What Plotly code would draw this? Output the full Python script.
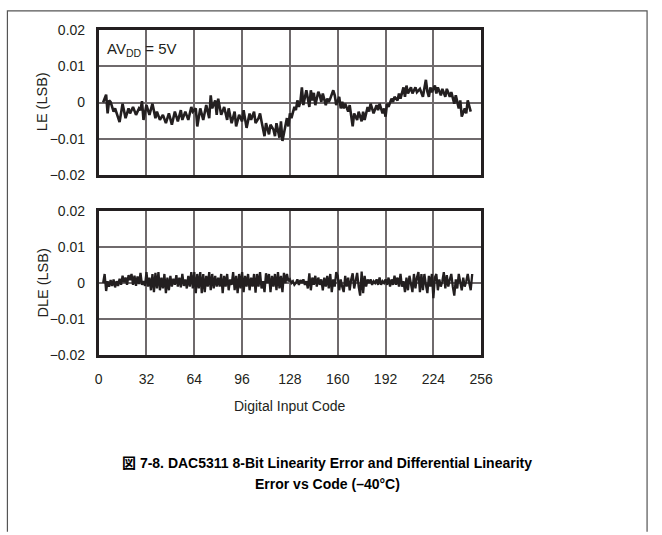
import plotly.graph_objects as go

# ---------------- data ----------------
le_code = [3,5,6,7,8,10,11,14,16,18,20,21,23,25,27,28,29,30,32,34,36,38,39,41,43,45,47,49,51,53,55,56,58,60,62,63,
           65,66,68,70,72,74,75,76,78,79,80,82,84,86,87,89,91,92,94,96,97,99,101,102,104,105,107,108,109,111,112,114,
           115,117,118,119,121,122,123,125,126,127,128,129,131,132,133,134,135,136,137,139,141,142,143,144,145,147,
           148,149,150,152,153,154,155,157,158,159,161,162,163,164,165,167,168,170,171,173,174,176,177,178,180,181,
           182,184,186,187,188,190,191,192,193,194,196,197,198,200,201,202,204,205,206,207,209,210,212,213,215,217,
           219,220,221,222,223,225,226,227,229,230,232,233,235,236,238,239,241,242,243,245,246,247,249]
le_val = [0.0000,0.0022,-0.0030,0.0006,0.0002,-0.0025,-0.0016,-0.0054,-0.0003,-0.0043,-0.0016,-0.0030,-0.0012,
          -0.0034,-0.0016,-0.0021,0.0004,-0.0048,-0.0007,-0.0034,-0.0003,-0.0043,-0.0025,-0.0048,-0.0034,-0.0057,
          -0.0030,-0.0061,-0.0025,-0.0052,-0.0021,-0.0048,-0.0025,-0.0048,-0.0012,-0.0025,
          -0.0016,-0.0066,-0.0016,-0.0048,-0.0007,-0.0043,0.0020,-0.0016,0.0006,-0.0034,0.0011,-0.0034,-0.0012,
          -0.0048,-0.0016,-0.0057,-0.0025,-0.0066,-0.0034,-0.0052,-0.0021,-0.0070,-0.0030,-0.0048,-0.0025,-0.0057,
          -0.0043,-0.0030,-0.0052,-0.0093,-0.0057,-0.0088,
          -0.0061,-0.0075,-0.0093,-0.0057,-0.0097,-0.0052,-0.0106,-0.0061,-0.0043,-0.0066,-0.0030,-0.0043,-0.0012,
          -0.0021,0.0006,-0.0012,0.0002,0.0042,-0.0007,0.0034,-0.0012,0.0034,0.0006,0.0027,-0.0007,0.0030,
          0.0020,0.0002,0.0025,-0.0007,0.0011,0.0002,0.0011,0.0034,0.0020,-0.0007,0.0016,-0.0016,0.0002,-0.0016,
          -0.0003,-0.0025,-0.0007,-0.0066,-0.0030,-0.0048,-0.0025,-0.0052,-0.0025,-0.0048,-0.0012,-0.0025,
          -0.0003,-0.0030,-0.0007,-0.0021,-0.0003,-0.0030,-0.0016,-0.0039,-0.0003,-0.0012,0.0011,0.0002,0.0016,
          0.0006,0.0025,0.0011,0.0042,0.0016,0.0047,0.0025,0.0042,0.0025,0.0042,0.0029,0.0038,0.0016,
          0.0063,0.0030,0.0016,0.0042,0.0029,0.0047,0.0025,0.0042,0.0020,0.0038,0.0016,0.0038,0.0016,0.0029,
          -0.0003,0.0020,-0.0016,0.0006,-0.0039,-0.0016,-0.0030,0.0006,-0.0025]
assert len(le_code) == len(le_val), (len(le_code), len(le_val))

dle_code = list(range(3, 251))
dle_val = [
    # 3-31
    0.0000,0.0025,-0.0022,0.0005,-0.0010,0.0008,-0.0008,0.0010,-0.0012,0.0005,-0.0008,0.0012,-0.0005,0.0020,
    0.0002,0.0015,-0.0005,0.0022,0.0008,0.0025,-0.0005,0.0020,-0.0008,0.0018,-0.0003,0.0028,-0.0005,0.0005,-0.0008,
    # 32-63
    0.0030,-0.0010,0.0015,-0.0020,0.0025,-0.0025,0.0028,-0.0015,0.0030,-0.0020,0.0015,-0.0015,0.0025,-0.0028,
    0.0015,-0.0020,0.0020,-0.0010,0.0012,-0.0005,0.0022,-0.0010,0.0015,-0.0012,0.0025,-0.0008,0.0010,-0.0015,
    0.0020,-0.0010,0.0030,-0.0015,
    # 64-95
    0.0030,-0.0028,0.0025,-0.0015,0.0030,-0.0028,0.0025,-0.0025,0.0020,-0.0010,0.0030,-0.0020,0.0025,-0.0015,
    0.0020,-0.0010,0.0015,-0.0010,0.0025,-0.0028,0.0020,-0.0010,0.0025,-0.0020,0.0010,-0.0005,0.0030,-0.0020,
    0.0020,-0.0028,0.0025,-0.0015,
    # 96-127
    0.0030,-0.0025,0.0020,-0.0010,0.0025,-0.0020,0.0015,-0.0010,0.0025,-0.0027,0.0025,-0.0010,0.0030,-0.0015,
    0.0005,-0.0025,0.0027,0.0000,0.0025,-0.0025,0.0020,-0.0010,0.0025,-0.0020,0.0030,-0.0015,0.0020,-0.0025,
    0.0028,0.0000,0.0025,0.0005,
    # 128-159
    0.0010,0.0000,0.0005,-0.0005,0.0000,0.0010,-0.0005,0.0008,0.0000,0.0010,-0.0005,0.0005,-0.0015,0.0027,
    -0.0020,0.0015,-0.0005,0.0020,-0.0010,0.0015,-0.0005,0.0010,-0.0020,0.0015,-0.0010,0.0020,-0.0015,0.0025,
    -0.0025,0.0010,-0.0010,0.0030,
    # 160-191
    0.0020,-0.0020,0.0010,-0.0010,-0.0025,0.0020,-0.0010,0.0015,-0.0020,0.0010,0.0027,-0.0015,0.0010,0.0028,
    -0.0010,-0.0035,0.0032,-0.0028,0.0020,-0.0010,0.0010,0.0000,0.0010,-0.0005,0.0005,0.0000,0.0010,-0.0005,
    0.0015,-0.0005,0.0005,0.0000,
    # 192-223
    0.0010,-0.0005,0.0015,-0.0010,0.0010,-0.0005,0.0020,-0.0005,0.0015,-0.0010,0.0025,-0.0010,0.0005,-0.0025,
    0.0015,-0.0020,0.0020,-0.0010,-0.0025,0.0025,-0.0015,0.0015,0.0030,-0.0025,0.0025,-0.0020,0.0025,-0.0005,
    -0.0028,0.0020,-0.0010,0.0025,
    # 224-250
    -0.0042,0.0015,0.0025,-0.0020,0.0010,-0.0010,0.0005,0.0030,-0.0015,0.0022,-0.0010,0.0010,0.0025,-0.0010,
    -0.0035,0.0010,-0.0015,0.0025,0.0005,-0.0020,0.0015,-0.0010,0.0005,0.0025,0.0000,-0.0020,0.0025]
assert len(dle_code) == len(dle_val), (len(dle_code), len(dle_val))

x_ticks = [0, 32, 64, 96, 128, 160, 192, 224, 256]
x_tick_text = ["0", "32", "64", "96", "128", "160", "192", "224", "256"]
y_ticks = [-0.02, -0.01, 0, 0.01, 0.02]
y_tick_text = ["\u22120.02", "\u22120.01", "0", "0.01", "0.02"]

# ---------------- layout helpers ----------------
W, H = 662, 535
def px(x):
    return x / W
def py(y):
    return 1 - y / H

FONT = "Liberation Sans, Arial, Noto Sans CJK JP, sans-serif"
INK = "#231f20"
GRID = "#6f6a6c"

fig = go.Figure()
fig.add_trace(go.Scatter(x=le_code, y=le_val, mode="lines", line=dict(color=INK, width=2.6),
                         xaxis="x", yaxis="y", showlegend=False, hoverinfo="skip"))
fig.add_trace(go.Scatter(x=dle_code, y=dle_val, mode="lines", line=dict(color=INK, width=2.3),
                         xaxis="x2", yaxis="y2", showlegend=False, hoverinfo="skip"))

common_x = dict(range=[0, 256], tickvals=x_ticks, showgrid=True, gridcolor=GRID, gridwidth=1.5,
                zeroline=False, showline=True, mirror=True, linecolor=INK, linewidth=2.5,
                ticks="", fixedrange=True)
common_y = dict(range=[-0.02, 0.02], tickvals=y_ticks, ticktext=y_tick_text, showgrid=True,
                gridcolor=GRID, gridwidth=1.5, zeroline=False, showline=True, mirror=True,
                linecolor=INK, linewidth=2.5, ticks="", ticklabelstandoff=8,
                tickfont=dict(family=FONT, size=14, color=INK), fixedrange=True)

fig.update_layout(
    width=W, height=H, margin=dict(l=0, r=0, t=0, b=0),
    paper_bgcolor="white", plot_bgcolor="white",
    xaxis=dict(domain=[px(97), px(489)], anchor="y", showticklabels=False, **common_x),
    yaxis=dict(domain=[py(172), py(23)], anchor="x", **common_y),
    xaxis2=dict(domain=[px(97), px(489)], anchor="y2", showticklabels=True, ticktext=x_tick_text,
                ticklabelstandoff=9, tickfont=dict(family=FONT, size=14, color=INK), **common_x),
    yaxis2=dict(domain=[py(358), py(209)], anchor="x2", **common_y),
    font=dict(family=FONT, color=INK),
)

annotations = [
    dict(text="AV<sub>DD</sub> = 5V", x=px(104), y=py(43), xref="paper", yref="paper",
         xanchor="left", yanchor="middle", showarrow=False, font=dict(family=FONT, size=15, color=INK)),
    dict(text="LE (LSB)", x=px(39), y=py(97), xref="paper", yref="paper", textangle=-90,
         xanchor="center", yanchor="middle", showarrow=False, font=dict(family=FONT, size=14.5, color=INK)),
    dict(text="DLE (LSB)", x=px(39), y=py(284), xref="paper", yref="paper", textangle=-90,
         xanchor="center", yanchor="middle", showarrow=False, font=dict(family=FONT, size=14.5, color=INK)),
    dict(text="Digital Input Code", x=px(293), y=py(410), xref="paper", yref="paper",
         xanchor="center", yanchor="middle", showarrow=False, font=dict(family=FONT, size=14, color=INK)),
    dict(text="<b>図 7-8. DAC5311 8-Bit Linearity Error and Differential Linearity</b>",
         x=px(331), y=py(469), xref="paper", yref="paper", xanchor="center", yanchor="middle",
         showarrow=False, font=dict(family=FONT, size=14, color="#000000")),
    dict(text="<b>Error vs Code (\u201340°C)</b>",
         x=px(331), y=py(491), xref="paper", yref="paper", xanchor="center", yanchor="middle",
         showarrow=False, font=dict(family=FONT, size=14, color="#000000")),
]
fig.update_layout(annotations=annotations)

# outer frame of the figure
fig.add_shape(type="path", path="M %f,%f L %f,%f L %f,%f L %f,%f" % (px(3.5), py(540), px(3.5), py(3), px(659), py(3), px(659), py(540)),
              xref="paper", yref="paper", line=dict(color="#555555", width=1.2))

fig.write_html("out.html")
